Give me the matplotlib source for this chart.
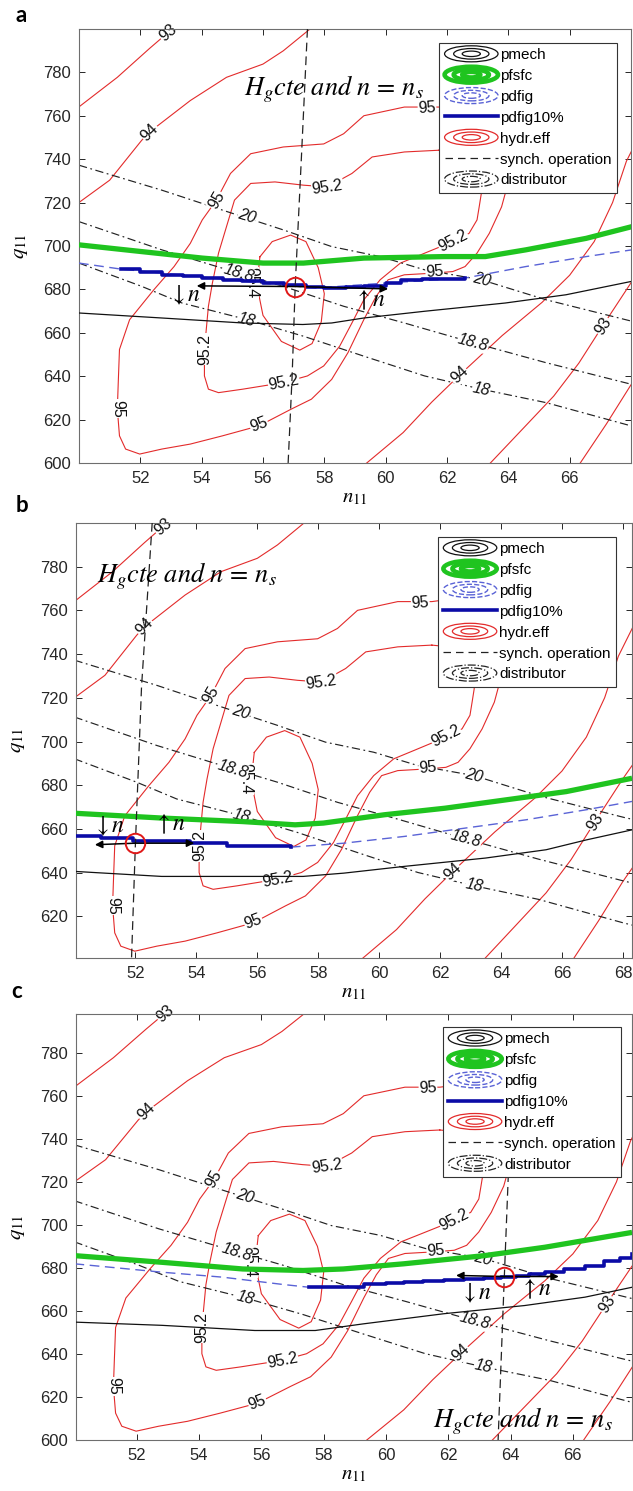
import matplotlib
matplotlib.use("Agg")
import matplotlib.pyplot as plt
from matplotlib.lines import Line2D
from matplotlib.patches import Ellipse
from matplotlib.legend_handler import HandlerBase

plt.rcParams['font.family'] = ['Liberation Sans', 'DejaVu Sans']
plt.rcParams['mathtext.fontset'] = 'stix'

# --- hydr.eff contours (same map in all three panels) ---
eff93_tl_n = [49.9, 51.25, 52.3, 52.9, 53.3]
eff93_tl_q = [763.0, 777.7, 791.0, 798.3, 803.0]
eff94_tl_n = [49.9, 51.0, 52.04, 52.3, 53.63, 54.81, 56.0, 56.66, 57.45, 57.8]
eff94_tl_q = [719.0, 730.3, 748.6, 752.5, 767.0, 777.7, 783.8, 789.9, 799.0, 803.0]
eff95_n = [62.8, 61.73, 60.61, 59.29, 58.63, 57.98, 56.66, 55.6, 54.94, 54.48, 54.02, 53.63,
           53.1, 52.44, 51.65, 51.32, 51.28, 51.25, 51.32, 51.52, 51.98, 52.7, 53.63, 54.68,
           55.87, 56.92, 57.58, 58.24, 58.77, 59.29, 59.69, 60.08, 60.61, 61.6, 62.19, 62.59,
           62.98, 63.38, 63.78, 63.9, 64.3, 64.57, 64.2, 63.5, 62.8]
eff95_q = [766.0, 764.0, 764.0, 760.0, 751.7, 747.0, 745.6, 742.5, 733.4, 721.1, 712.0, 701.2,
           690.5, 679.8, 666.0, 652.3, 637.0, 624.8, 612.5, 606.4, 604.1, 606.4, 608.7, 612.5,
           617.1, 624.8, 629.4, 638.5, 650.8, 666.1, 676.8, 684.4, 686.7, 687.5, 688.2, 690.5,
           696.7, 705.8, 718.0, 724.2, 744.0, 759.4, 768.0, 770.0, 766.0]
eff952_n = [61.73, 60.61, 59.56, 58.9, 58.1, 57.32, 56.39, 55.6, 55.07, 54.81, 54.55, 54.35,
            54.22, 54.09, 54.09, 54.22, 54.55, 55.34, 56.66, 57.45, 57.98, 58.5, 58.9, 59.29,
            59.82, 60.48, 61.14, 62.19, 62.72, 62.98, 63.05, 63.12, 62.98, 62.3, 61.73]
eff952_q = [744.1, 743.3, 741.0, 733.4, 727.2, 728.0, 729.5, 728.8, 721.1, 708.9, 696.7, 682.9,
            672.2, 652.3, 640.1, 634.0, 632.4, 634.0, 637.0, 640.1, 644.7, 653.8, 664.5, 675.2,
            684.4, 692.1, 695.9, 702.0, 705.8, 712.0, 718.0, 724.2, 736.4, 743.3, 744.1]
eff954_n = [55.9, 56.3, 56.9, 57.4, 57.8, 58.0, 57.9, 57.6, 57.2, 56.6, 56.0, 55.8, 55.9]
eff954_q = [695, 702, 705, 702, 690, 678, 665, 655, 652, 656, 668, 682, 695]
eff94_r_n = [59.3, 60.57, 61.5, 62.5, 63.8, 65.1, 66.0, 66.8, 67.4, 67.85, 68.6]
eff94_r_q = [599.0, 614.0, 628.0, 641.7, 658.7, 674.0, 686.5, 702.0, 720.0, 739.0, 760.0]
eff93_r_n = [63.35, 64.45, 65.48, 66.3, 67.07, 68.0, 68.6]
eff93_r_q = [599.0, 615.4, 630.8, 646.0, 663.0, 683.0, 695.0]
eff92_r_n = [66.3, 67.2, 68.0, 68.6]
eff92_r_q = [599.0, 618.0, 636.0, 648.0]

eff_label_text = ["93", "94", "95", "95", "95.2", "95.2", "95", "95.2", "95", "95.2", "95", "95.4", "94", "93"]
eff_label_n = [52.9, 52.3, 54.48, 61.35, 58.1, 62.2, 61.6, 56.68, 55.87, 54.1, 51.26, 55.62, 62.4, 67.1]
eff_label_q = [798.3, 752.5, 721.1, 763.5, 727.2, 702.5, 688.0, 637.0, 617.5, 652.3, 625.0, 683.0, 640.5, 663.0]
eff_label_rot = [40, 45, 60, 3, 8, 27, 5, 11, 21, 90, -90, -90, 43, 57]

# --- distributor opening lines ---
dist20_n = [50.0, 52.7, 54.68, 56.66, 58.24, 59.82, 61.27, 63.12, 65.23, 68.03, 68.6]
dist20_q = [737.2, 725.7, 716.5, 707.4, 699.7, 695.1, 689.0, 684.4, 675.2, 665.3, 663.5]
dist188_n = [50.0, 52.7, 55.2, 56.66, 58.63, 60.61, 62.85, 65.23, 68.0, 68.6]
dist188_q = [711.2, 698.2, 687.5, 681.4, 672.2, 664.5, 655.4, 646.2, 636.3, 634.3]
dist18_n = [50.0, 52.04, 53.36, 55.47, 57.32, 59.29, 61.27, 63.12, 65.23, 68.0, 68.6]
dist18_q = [692.1, 681.4, 673.7, 666.1, 658.4, 649.2, 640.1, 634.0, 627.8, 617.1, 615.0]

dist_label_text = ["20", "20", "18.8", "18.8", "18", "18"]
dist_label_n = [55.47, 63.12, 55.2, 62.85, 55.47, 63.12]
dist_label_q = [713.5, 684.4, 687.5, 655.4, 666.1, 634.0]
dist_label_rot = [-17, -14, -17, -15, -15, -12]

# --- panel a ---
pmech_a_n = [50.0, 52.7, 55.34, 57.3, 58.24, 59.29, 61.27, 63.9, 65.88, 68.03]
pmech_a_q = [669.1, 666.8, 664.5, 663.8, 664.5, 666.8, 669.9, 673.7, 677.5, 683.7]
pfsfc_a_n = [50.0, 52.04, 54.02, 56.0, 57.32, 59.29, 61.93, 63.25, 64.57, 66.54, 68.03]
pfsfc_a_q = [700.5, 697.4, 694.4, 692.1, 692.1, 694.4, 695.1, 695.1, 698.2, 703.5, 708.9]
pdfig_a_n = [50.0, 51.38, 56.0, 57.71, 60.0, 62.59, 64.57, 66.54, 68.03]
pdfig_a_q = [692.1, 689.3, 682.9, 680.6, 682.9, 685.2, 690.5, 695.1, 698.2]
pdfig10_a_n = [51.38, 52.0, 52.7, 53.4, 54.0, 54.7, 55.3, 56.0, 56.7, 57.4, 58.0, 58.7, 59.3,
               60.0, 60.5, 61.2, 61.9, 62.6]
pdfig10_a_q = [689.3, 688.0, 686.7, 686.0, 685.2, 684.5, 683.7, 682.9, 682.1, 681.0, 680.5,
               681.0, 681.5, 682.9, 684.4, 684.6, 684.7, 685.2]
synch_a_n = [57.45, 57.25, 57.05, 56.95, 56.82]
synch_a_q = [800.0, 740.0, 681.3, 640.0, 600.0]
op_a = (57.05, 681.3)
arrow_a = [(53.84, 681.6), (60.08, 680.2)]
nlab_a = [(53.46, 677.4), (59.49, 675.0)]
title_a = (58.3, 772.4)

# --- panel b ---
pmech_b_n = [50.0, 52.86, 55.5, 57.5, 58.84, 60.83, 63.49, 65.48, 66.8, 68.3]
pmech_b_q = [640.6, 638.3, 638.3, 638.3, 639.8, 642.9, 646.7, 650.5, 655.0, 659.6]
pfsfc_b_n = [50.0, 52.86, 55.5, 57.24, 58.17, 60.17, 62.16, 64.15, 66.14, 68.3]
pfsfc_b_q = [667.2, 665.0, 663.4, 661.9, 662.7, 666.5, 669.5, 673.3, 677.1, 683.2]
pdfig_b_n = [57.1, 58.84, 60.83, 62.82, 64.82, 66.8, 68.3]
pdfig_b_q = [651.7, 653.5, 656.6, 660.4, 664.2, 668.8, 672.6]
pdfig10_b_n = [50.0, 50.87, 51.93, 52.86, 53.8, 55.0, 56.18, 57.1]
pdfig10_b_q = [656.6, 655.8, 654.7, 654.3, 653.8, 652.3, 652.0, 651.7]
synch_b_n = [52.55, 52.2, 52.0, 51.87]
synch_b_q = [800.0, 725.0, 653.5, 600.0]
op_b = (52.0, 653.5)
arrow_b = [(50.67, 652.8), (53.93, 653.5)]
nlab_b = [(51.14, 661.0), (53.13, 662.0)]
title_b = (53.7, 775.7)

# --- panel c ---
pmech_c_n = [50.0, 52.81, 55.79, 57.73, 59.28, 61.86, 64.45, 66.39, 67.9]
pmech_c_q = [654.8, 653.3, 650.9, 650.9, 654.0, 658.7, 662.5, 666.4, 671.0]
pfsfc_c_n = [50.0, 52.81, 55.4, 57.34, 58.63, 60.57, 63.16, 65.1, 67.9]
pfsfc_c_q = [685.7, 682.6, 679.5, 678.8, 679.5, 681.9, 685.7, 689.6, 696.5]
pdfig_c_n = [50.0, 52.81, 54.75, 56.69, 57.53]
pdfig_c_q = [681.9, 678.0, 675.7, 672.3, 671.0]
pdfig10_c_n = [57.53, 58.63, 59.28, 60.0, 60.57, 61.2, 61.86, 62.5, 63.16, 63.7, 64.19, 64.6,
               65.1, 65.7, 66.39, 67.0, 67.5, 67.9]
pdfig10_c_q = [671.0, 671.3, 672.3, 672.8, 673.4, 673.9, 674.4, 674.8, 675.2, 675.8, 676.4,
               677.2, 678.0, 679.5, 681.0, 683.0, 684.8, 686.5]
synch_c_n = [63.93, 63.8, 63.6]
synch_c_q = [724.0, 676.0, 600.0]
op_c = (63.8, 676.0)
arrow_c = [(62.25, 676.5), (65.55, 676.0)]
nlab_c = [(62.9, 668.0), (64.83, 670.0)]
title_c = (64.4, 608.9)

legend_labels = ["pmech", "pfsfc", "pdfig", "pdfig10%", "hydr.eff", "synch. operation", "distributor"]

RED = '#e32b2b'
GREEN = '#1fc41f'
DBLUE = '#0b0ba6'
LBLUE = '#5a63d6'


class ContourIcon(HandlerBase):
    """MATLAB-like concentric ellipse icon for contour entries."""
    def create_artists(self, legend, orig_handle, xdescent, ydescent, width, height, fontsize, trans):
        cx = 0.5 * width - xdescent
        cy = 0.5 * height - ydescent
        arts = []
        for f in (1.0, 0.66, 0.34):
            e = Ellipse((cx, cy), width * f, height * 1.5 * f, fill=False,
                        edgecolor=orig_handle.get_color(), lw=orig_handle.get_linewidth(),
                        linestyle=orig_handle.get_linestyle(), transform=trans)
            arts.append(e)
        return arts


def draw_panel(ax, p):
    ax.set_xlim(*p['xlim'])
    ax.set_ylim(*p['ylim'])

    # hydr.eff contours
    for n, q in [(eff93_tl_n, eff93_tl_q), (eff94_tl_n, eff94_tl_q), (eff95_n, eff95_q),
                 (eff952_n, eff952_q), (eff954_n, eff954_q), (eff94_r_n, eff94_r_q),
                 (eff93_r_n, eff93_r_q), (eff92_r_n, eff92_r_q)]:
        ax.plot(n, q, color=RED, lw=0.8, zorder=2)
    for t, n, q, r in zip(eff_label_text, eff_label_n, eff_label_q, eff_label_rot):
        ax.text(n, q, t, rotation=r, rotation_mode='anchor', ha='center', va='center',
                fontsize=11.5, color='#111111', zorder=2.5,
                bbox=dict(facecolor='white', edgecolor='none', pad=0.4))

    # distributor
    for n, q in [(dist20_n, dist20_q), (dist188_n, dist188_q), (dist18_n, dist18_q)]:
        ax.plot(n, q, color='#222222', lw=0.85, dashes=(7, 3, 1.5, 3), zorder=2)
    for t, n, q, r in zip(dist_label_text, dist_label_n, dist_label_q, dist_label_rot):
        ax.text(n, q, t, rotation=r, rotation_mode='anchor', ha='center', va='center',
                fontsize=11.5, style='italic', color='#111111', zorder=2.6,
                bbox=dict(facecolor='white', edgecolor='none', pad=0.4))

    # operating curves
    ax.plot(p['pmech'][0], p['pmech'][1], color='#111111', lw=0.9, zorder=3)
    ax.plot(p['pdfig'][0], p['pdfig'][1], color=LBLUE, lw=1.0, dashes=(7, 4), zorder=3)
    ax.plot(p['pfsfc'][0], p['pfsfc'][1], color=GREEN, lw=3.8, solid_capstyle='butt', zorder=3.2)
    ax.plot(p['pdfig10'][0], p['pdfig10'][1], color=DBLUE, lw=2.6, drawstyle='steps-post', zorder=3.4)
    ax.plot(p['synch'][0], p['synch'][1], color='#222222', lw=0.9, dashes=(7, 4), zorder=3.5)

    # operating point and arrows
    cx, cy = p['op']
    for end in p['arrow']:
        ax.annotate('', xy=end, xytext=(cx, cy), zorder=4,
                    arrowprops=dict(arrowstyle='-|>', color='black', lw=1.1,
                                    mutation_scale=11, shrinkA=0, shrinkB=0))
    ax.plot([cx], [cy], marker='o', ms=14, mfc='none', mec='#e01818', mew=1.4, zorder=5)
    (dn, dq), (un, uq) = p['nlab']
    ax.text(dn, dq, r'$\downarrow n$', fontsize=17, ha='center', va='center', zorder=5)
    ax.text(un, uq, r'$\uparrow n$', fontsize=17, ha='center', va='center', zorder=5)
    ax.text(p['title'][0], p['title'][1], r'$H_g cte\ and\ n\, =\, n_s$', fontsize=19,
            ha='center', va='center', zorder=5)

    ax.set_xticks(p['xticks'])
    ax.set_yticks(p['yticks'])
    ax.tick_params(direction='in', length=4, top=True, right=True, labelsize=12,
                   pad=6, colors='#262626', width=0.7)
    for s in ax.spines.values():
        s.set_color('#6e6e6e')
        s.set_linewidth(0.8)
    ax.set_xlabel(r'$n_{11}$', fontsize=15, labelpad=1)
    ax.set_ylabel(r'$q_{11}$', fontsize=15, labelpad=9)

    handles = [
        Line2D([], [], color='#111111', lw=0.9, ls='-'),
        Line2D([], [], color=GREEN, lw=3.2, ls='-'),
        Line2D([], [], color=LBLUE, lw=1.0, ls='--'),
        Line2D([], [], color=DBLUE, lw=2.6, ls='-'),
        Line2D([], [], color=RED, lw=0.9, ls='-'),
        Line2D([], [], color='#222222', lw=0.9, dashes=(6, 4)),
        Line2D([], [], color='#222222', lw=0.9, ls='-.'),
    ]
    hmap = {handles[i]: ContourIcon() for i in (0, 1, 2, 4, 6)}
    leg = ax.legend(handles, legend_labels, handler_map=hmap, loc='upper right',
                    bbox_to_anchor=p['legend_at'], borderaxespad=0, fontsize=11,
                    handlelength=3.5, handletextpad=0.15, labelspacing=0.45,
                    borderpad=0.35, fancybox=False, framealpha=1, edgecolor='#333333')
    leg.get_frame().set_linewidth(0.8)
    leg.set_zorder(10)


panels = {
    'a': dict(xlim=(50, 68), ylim=(600, 800), xticks=range(52, 68, 2), yticks=range(600, 800, 20),
              pmech=(pmech_a_n, pmech_a_q), pfsfc=(pfsfc_a_n, pfsfc_a_q),
              pdfig=(pdfig_a_n, pdfig_a_q), pdfig10=(pdfig10_a_n, pdfig10_a_q),
              synch=(synch_a_n, synch_a_q), op=op_a, arrow=arrow_a, nlab=nlab_a,
              title=title_a, legend_at=(0.975, 0.968)),
    'b': dict(xlim=(50.05, 68.3), ylim=(601, 800), xticks=range(52, 69, 2), yticks=range(620, 800, 20),
              pmech=(pmech_b_n, pmech_b_q), pfsfc=(pfsfc_b_n, pfsfc_b_q),
              pdfig=(pdfig_b_n, pdfig_b_q), pdfig10=(pdfig10_b_n, pdfig10_b_q),
              synch=(synch_b_n, synch_b_q), op=op_b, arrow=arrow_b, nlab=nlab_b,
              title=title_b, legend_at=(0.971, 0.968)),
    'c': dict(xlim=(50.05, 67.9), ylim=(600, 798), xticks=range(52, 68, 2), yticks=range(600, 800, 20),
              pmech=(pmech_c_n, pmech_c_q), pfsfc=(pfsfc_c_n, pfsfc_c_q),
              pdfig=(pdfig_c_n, pdfig_c_q), pdfig10=(pdfig10_c_n, pdfig10_c_q),
              synch=(synch_c_n, synch_c_q), op=op_c, arrow=arrow_c, nlab=nlab_c,
              title=title_c, legend_at=(0.980, 0.9695)),
}

fig = plt.figure(figsize=(6.33, 14.91), dpi=100)
axes = {
    'a': fig.add_axes([0.1248, 0.6895, 0.8720, 0.2911]),
    'b': fig.add_axes([0.1201, 0.3575, 0.8784, 0.2918]),
    'c': fig.add_axes([0.1201, 0.0342, 0.8784, 0.2857]),
}
for key in ('a', 'b', 'c'):
    draw_panel(axes[key], panels[key])

letter_pos = {'a': (0.024, 0.985), 'b': (0.024, 0.6565), 'c': (0.018, 0.3305)}
for key, (x, y) in letter_pos.items():
    fig.text(x, y, key, fontsize=16, fontweight='bold', family=['Lato', 'DejaVu Sans'],
             ha='left', va='baseline')

fig.savefig('out.png', dpi=100)
